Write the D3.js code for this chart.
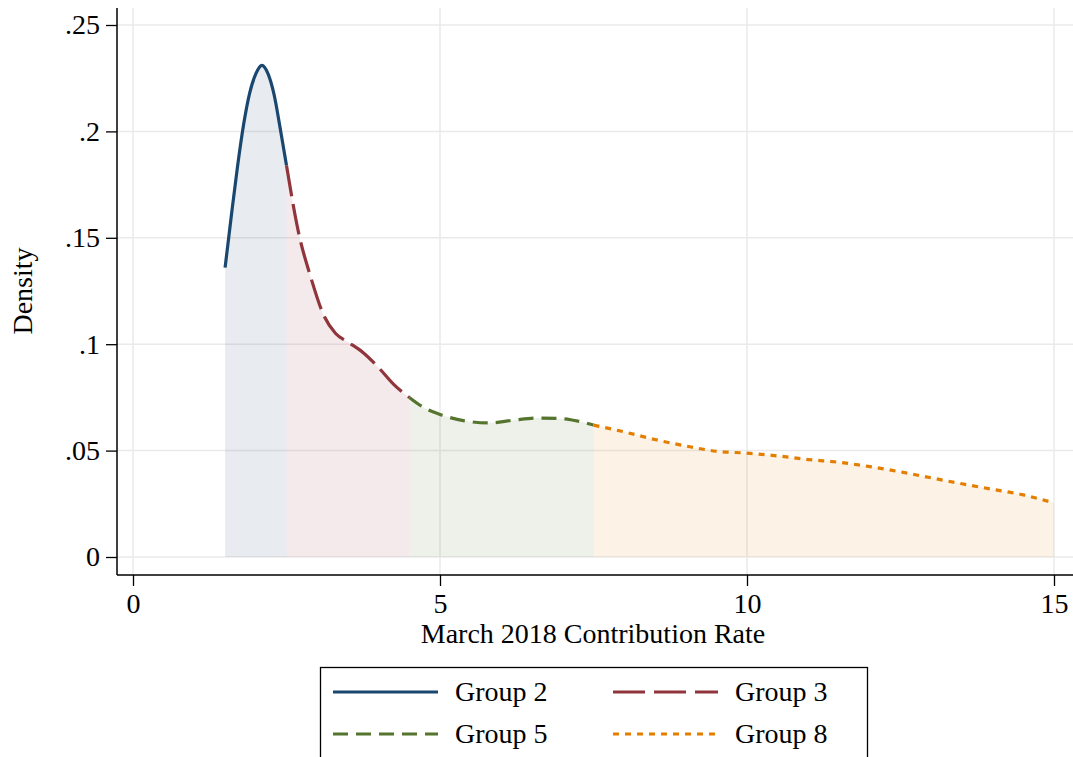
<!DOCTYPE html>
<html><head><meta charset="utf-8">
<script src="https://cdn.jsdelivr.net/npm/d3@7"></script>
<style>body{margin:0;background:#fff}svg{display:block}text{font-family:"Liberation Serif","Times New Roman",serif;fill:#000}</style>
</head><body><svg id="c" width="1073" height="757"></svg>
<script>
// Data
const groupNames = ["Group 2","Group 3","Group 5","Group 8"];
const g2x = [1.5,1.6,1.7,1.8,1.9,2.0,2.1,2.2,2.3,2.4,2.5];
const g2y = [0.136,0.160,0.183,0.203,0.218,0.227,0.231,0.227,0.217,0.201,0.184];
const g3x = [2.5,2.7,2.9,3.1,3.3,3.5,3.75,4.0,4.25,4.5];
const g3y = [0.184,0.152,0.131,0.114,0.105,0.101,0.096,0.089,0.081,0.075];
const g5x = [4.5,4.75,5.0,5.4,5.8,6.2,6.6,7.0,7.3,7.5];
const g5y = [0.075,0.070,0.067,0.064,0.063,0.0643,0.0653,0.065,0.0635,0.062];
const g8x = [7.5,8.0,8.5,9.0,9.5,10.0,10.5,11.0,11.5,12.0,12.5,13.0,13.5,14.0,14.5,15.0];
const g8y = [0.062,0.0588,0.0552,0.0522,0.0497,0.0488,0.0475,0.0458,0.0445,0.0425,0.040,0.0372,0.0344,0.0318,0.0292,0.0254];
const xTicks = [0,5,10,15];
const yTicks = [0,0.05,0.1,0.15,0.2,0.25];
const yTickLabels = ["0",".05",".1",".15",".2",".25"];

const colors = ["#1a476f","#90353b","#55752f","#e37e00"];
const dashes = [null,"31,8","15,8","6,6"];
const legendDashes = [null,"32,9","15,8","6,6"];
const FS = 28;

const svg = d3.select("#c");
const x = d3.scaleLinear().domain([0,15]).range([133,1054]);
const y = d3.scaleLinear().domain([0,0.25]).range([557,25]);
const axisX = 117, axisY = 575, plotTop = 8, plotRight = 1073;

const series = [[g2x,g2y],[g3x,g3y],[g5x,g5y],[g8x,g8y]].map(([xs,ys]) => xs.map((v,i)=>({x:v,y:ys[i]})));

// gridlines
const grid = svg.append("g");
grid.selectAll("line.h").data(yTicks).enter().append("line")
  .attr("x1",axisX).attr("x2",plotRight).attr("y1",d=>y(d)).attr("y2",d=>y(d))
  .attr("stroke","#eaeaea").attr("stroke-width",1.5);
grid.selectAll("line.v").data(xTicks).enter().append("line")
  .attr("y1",plotTop).attr("y2",axisY).attr("x1",d=>x(d)).attr("x2",d=>x(d))
  .attr("stroke","#eaeaea").attr("stroke-width",1.5);

// areas
const area = d3.area().x(d=>x(d.x)).y0(y(0)).y1(d=>y(d.y)).curve(d3.curveMonotoneX);
const line = d3.line().x(d=>x(d.x)).y(d=>y(d.y)).curve(d3.curveMonotoneX);
series.forEach((s,i)=>{
  svg.append("path").attr("d",area(s)).attr("fill",colors[i]).attr("fill-opacity",0.1);
});
series.forEach((s,i)=>{
  const p = svg.append("path").attr("d",line(s)).attr("fill","none")
    .attr("stroke",colors[i]).attr("stroke-width",3.2);
  if(dashes[i]) p.attr("stroke-dasharray",dashes[i]);
});

// axes
const ax = svg.append("g").attr("transform",`translate(0,${axisY})`)
  .call(d3.axisBottom(x).tickValues(xTicks).tickSize(11).tickPadding(7).tickFormat(d3.format("d")));
ax.select(".domain").remove();
ax.selectAll("line").attr("stroke","#000").attr("stroke-width",1.3);
ax.selectAll("text").attr("font-size",FS).attr("font-family","Liberation Serif");
svg.append("line").attr("x1",axisX).attr("x2",plotRight).attr("y1",axisY).attr("y2",axisY).attr("stroke","#000").attr("stroke-width",1.5);

const ay = svg.append("g").attr("transform",`translate(${axisX},0)`)
  .call(d3.axisLeft(y).tickValues(yTicks).tickSize(11).tickPadding(6).tickFormat((d,i)=>yTickLabels[i]));
ay.select(".domain").remove();
ay.selectAll("line").attr("stroke","#000").attr("stroke-width",1.3);
ay.selectAll("text").attr("font-size",FS).attr("font-family","Liberation Serif");
svg.append("line").attr("x1",axisX).attr("x2",axisX).attr("y1",plotTop).attr("y2",axisY).attr("stroke","#000").attr("stroke-width",1.5);

svg.append("text").attr("x",593).attr("y",643).attr("text-anchor","middle").attr("font-size",FS).text("March 2018 Contribution Rate");
svg.append("text").attr("transform","translate(32,291) rotate(-90)").attr("text-anchor","middle").attr("font-size",FS).text("Density");

// legend
svg.append("rect").attr("x",320.5).attr("y",667.5).attr("width",547).attr("height",100).attr("fill","#fff").attr("stroke","#000").attr("stroke-width",1.3);
const legPos = [[333,692],[613,692],[333,734],[613,734]];
groupNames.forEach((n,i)=>{
  const [lx,ly] = legPos[i];
  const l = svg.append("line").attr("x1",lx).attr("x2",lx+105).attr("y1",ly).attr("y2",ly).attr("stroke",colors[i]).attr("stroke-width",3.2);
  if(legendDashes[i]) l.attr("stroke-dasharray",legendDashes[i]);
  svg.append("text").attr("x",lx+122).attr("y",ly+9).attr("font-size",FS).text(n);
});
</script></body></html>
